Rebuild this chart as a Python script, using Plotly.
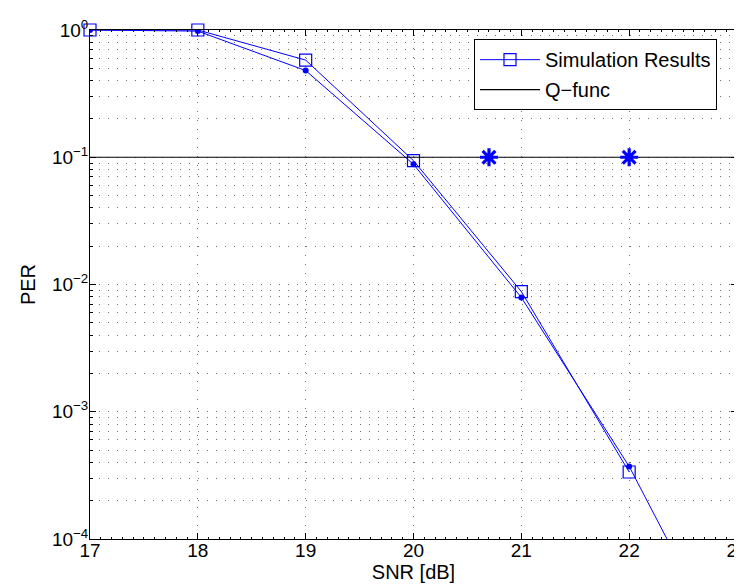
import plotly.graph_objects as go

# ---- data ----
snr = [17, 18, 19, 20, 21, 22]
sim_per = [1.0, 1.0, 0.58, 0.094, 0.0088, 3.36e-4]

snr_b = [17, 18, 19, 20, 21, 22, 23]
per_b = [1.0, 0.98, 0.48, 0.088, 0.0079, 3.72e-4, 8.8e-6]

qfunc_x = [17, 23]
qfunc_y = [0.1, 0.1]

star_x = [20.7, 22.0]
star_y = [0.1, 0.1]

x_ticks = [17, 18, 19, 20, 21, 22, 23]
y_ticks = [1e-4, 1e-3, 1e-2, 1e-1, 1e0]
y_ticktext = ["10<sup>−4</sup>", "10<sup>−3</sup>", "10<sup>−2</sup>",
              "10<sup>−1</sup>", "10<sup>0</sup>"]
y_minor = [m * 10.0 ** e for e in range(-4, 0) for m in range(2, 10)]

BLUE = "#0000FF"
FONT = "Liberation Sans, Arial, Helvetica, sans-serif"
GRID = "#707070"
GDASH = "1px,8px"

fig = go.Figure()

# second (dot) series, not in legend
fig.add_trace(go.Scatter(
    x=snr_b, y=per_b, mode="lines+markers",
    line=dict(color=BLUE, width=1),
    marker=dict(symbol="circle", size=6, color=BLUE),
    showlegend=False, cliponaxis=True))

# simulation results
fig.add_trace(go.Scatter(
    x=snr, y=sim_per, mode="lines+markers", name="Simulation Results",
    line=dict(color=BLUE, width=1),
    marker=dict(symbol="square-open", size=12, color=BLUE,
                line=dict(width=1.2, color=BLUE)),
    cliponaxis=False, legendgroup="a"))

# Q-func
fig.add_trace(go.Scatter(
    x=qfunc_x, y=qfunc_y, mode="lines", name="Q−func",
    line=dict(color="black", width=1.2), legendgroup="b"))

# asterisks
fig.add_trace(go.Scatter(
    x=star_x, y=star_y, mode="markers",
    marker=dict(symbol="asterisk-open", size=15, color=BLUE,
                line=dict(width=3.2, color=BLUE)),
    showlegend=False))

fig.update_layout(
    width=742, height=586,
    margin=dict(l=82, r=13, t=22, b=55),
    paper_bgcolor="white", plot_bgcolor="white",
    font=dict(family=FONT, size=19, color="black"),
    legend=dict(x=0.5935, y=0.982, xanchor="left", yanchor="top",
                bgcolor="white", bordercolor="black", borderwidth=1,
                font=dict(size=20, family=FONT), itemwidth=60,
                traceorder="grouped", tracegroupgap=1),
)

fig.update_xaxes(
    range=[17, 23], tickvals=x_ticks, ticks="inside", ticklen=6,
    tickcolor="black", showline=True, linecolor="black", linewidth=1,
    mirror="allticks", showgrid=True, gridcolor=GRID, gridwidth=1,
    griddash=GDASH, zeroline=False, automargin=False,
    ticklabelstandoff=-6,
    minor=dict(dtick=0.1, ticks="inside", ticklen=2, tickcolor="black",
               showgrid=False),
    title=dict(text="SNR [dB]", standoff=5, font=dict(size=20)),
    tickfont=dict(size=19),
)

fig.update_yaxes(
    type="log", range=[-4, 0], tickvals=y_ticks, ticktext=y_ticktext,
    ticks="inside", ticklen=6, tickcolor="black",
    showline=True, linecolor="black", linewidth=1, mirror="allticks",
    showgrid=True, gridcolor=GRID, gridwidth=1, griddash=GDASH,
    zeroline=False, automargin=False, ticklabelstandoff=-3,
    minor=dict(tickvals=y_minor, ticks="inside", ticklen=3,
               tickcolor="black", showgrid=True, gridcolor=GRID,
               griddash=GDASH, gridwidth=1),
    title=dict(text="PER", standoff=10, font=dict(size=20)),
    tickfont=dict(size=19),
)

fig.write_html("out.html")
